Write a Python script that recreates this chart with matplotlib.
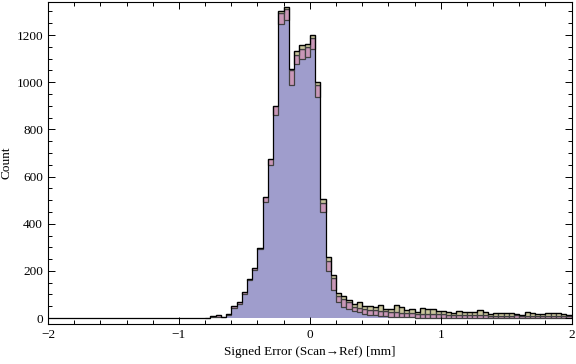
import numpy as np
import matplotlib.pyplot as plt
from matplotlib.ticker import MultipleLocator

# bin edges: -2 .. 2 in steps of 0.04 (100 bins)
bin_edges = np.round(np.arange(-2.0, 2.0001, 0.04), 2)

# counts per bin, left to right (three stacked data sets)
blue = [0, 0, 0, 0, 1, 0, 0, 0, 0, 0,
        0, 0, 1, 0, 0, 0, 0, 0, 0, 0,
        0, 0, 0, 0, 0, 0, 0, 0, 0, 0,
        1, 4, 5, 3, 14, 43, 60, 103, 160, 204,
        291, 492, 649, 860, 1247, 1264, 987, 1077, 1100, 1106,
        1142, 939, 449, 199, 119, 69, 49, 39, 31, 24,
        18, 14, 11, 9, 7, 6, 5, 4, 3, 3,
        2, 2, 2, 1, 1, 1, 1, 1, 0, 1,
        1, 0, 1, 0, 0, 1, 0, 0, 0, 1,
        0, 0, 0, 0, 1, 0, 0, 0, 0, 0]
pink = [0, 0, 0, 0, 0, 0, 0, 0, 0, 0,
        0, 0, 0, 0, 0, 0, 0, 0, 0, 0,
        0, 0, 0, 0, 0, 0, 0, 0, 0, 0,
        1, 4, 7, 1, 3, 8, 8, 7, 6, 8,
        8, 21, 25, 40, 45, 45, 66, 40, 42, 42,
        46, 48, 38, 45, 49, 25, 33, 27, 17, 18,
        20, 21, 22, 22, 21, 19, 19, 18, 18, 17,
        17, 16, 16, 16, 16, 15, 14, 12, 12, 11,
        10, 11, 10, 11, 10, 9, 10, 10, 10, 10,
        10, 10, 9, 10, 9, 9, 9, 9, 9, 8]
olive = [0, 0, 0, 0, 0, 0, 0, 0, 0, 0,
         0, 0, 0, 0, 0, 0, 0, 0, 0, 0,
         0, 0, 0, 0, 0, 0, 0, 0, 0, 0,
         0, 0, 0, 0, 0, 0, 0, 0, 0, 0,
         0, 0, 0, 0, 8, 9, 2, 14, 15, 14,
         11, 14, 17, 14, 14, 12, 11, 10, 11, 26,
         14, 17, 14, 25, 10, 13, 31, 25, 14, 18,
         7, 26, 20, 21, 15, 16, 12, 8, 18, 13,
         14, 14, 23, 14, 9, 11, 11, 11, 11, 7,
         3, 17, 11, 7, 7, 12, 11, 11, 8, 4]

col_blue = '#9f9dcc'
col_pink = '#c997b7'
col_olive = '#c9c59b'
edge = '#404040'

plt.rcParams['font.family'] = ['Liberation Serif', 'DejaVu Serif']

fig = plt.figure(figsize=(5.76, 3.64), dpi=100)
ax = fig.add_axes([0.0833, 0.110, 0.9092, 0.8845])

left = bin_edges[:-1]
width = np.diff(bin_edges)
b = np.array(blue)
p = np.array(pink)
o = np.array(olive)

# blue layer drawn as one filled step area, upper layers as outlined boxes
ax.stairs(b, bin_edges, fill=True, color=col_blue, linewidth=0)
mp = p > 0
ax.bar(left[mp], p[mp], width=width[mp], bottom=b[mp], align='edge',
       color=col_pink, edgecolor=edge, linewidth=0.9)
mo = o > 0
ax.bar(left[mo], o[mo], width=width[mo], bottom=(b + p)[mo], align='edge',
       color=col_olive, edgecolor=edge, linewidth=0.9)
ax.stairs(b + p + o, bin_edges, color='black', linewidth=0.9)

ax.set_xlim(-2, 2)
ax.set_ylim(-25, 1340)

ax.xaxis.set_major_locator(MultipleLocator(1))
ax.xaxis.set_minor_locator(MultipleLocator(0.2))
ax.yaxis.set_major_locator(MultipleLocator(200))
ax.yaxis.set_minor_locator(MultipleLocator(50))
ax.tick_params(which='both', direction='in', top=True, right=True, labelsize=9.5, width=0.7)
ax.tick_params(which='major', length=5)
ax.tick_params(which='minor', length=3)
for s in ax.spines.values():
    s.set_linewidth(0.8)

ax.set_xlabel('Signed Error (Scan→Ref) [mm]', fontsize=9.5, labelpad=4)
ax.set_ylabel('Count', fontsize=9.5)
ax.yaxis.set_label_coords(-0.068, 0.5)

fig.savefig('out.png', dpi=100)
